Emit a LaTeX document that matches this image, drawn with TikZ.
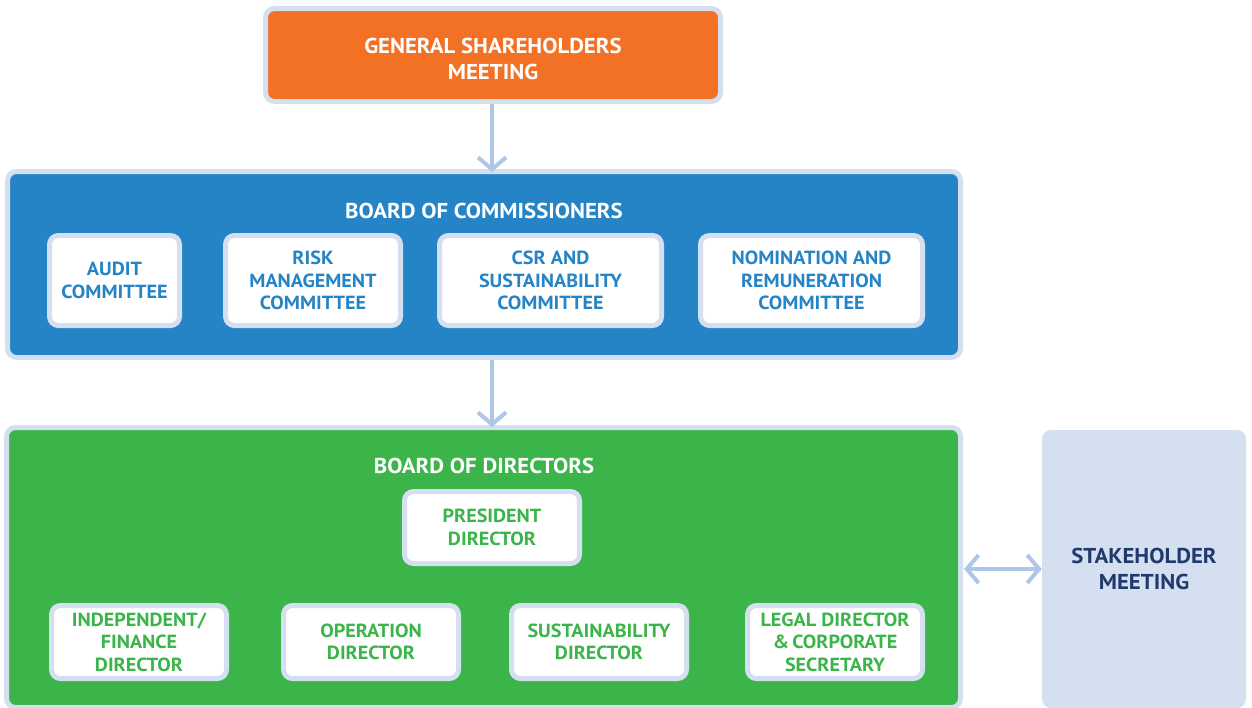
\documentclass[tikz,border=0pt]{standalone}
\usepackage{fontspec}
\setmainfont{PT Sans}[FakeStretch=1.06]
\usetikzlibrary{arrows.meta}
\definecolor{edge}{HTML}{D4DFF0}
\definecolor{arrowc}{HTML}{AFC6E9}
\definecolor{gsmorange}{HTML}{F37124}
\definecolor{bocblue}{HTML}{2584C6}
\definecolor{bodgreen}{HTML}{3BB54A}
\definecolor{navy}{HTML}{213A6E}
\tikzset{
  frame/.style={draw=edge, line width=5pt, rounded corners=9pt, inner sep=0pt, align=center},
  big/.style={font=\bfseries\fontsize{21.5}{26}\selectfont},
  small/.style={font=\bfseries\fontsize{19}{22.5}\selectfont},
  board/.style={frame, text=white, big},
  card/.style={frame, fill=white, small, minimum height=90pt},
  bluecard/.style={card, text=bocblue, minimum height=90pt},
  greencard/.style={card, text=bodgreen, minimum width=175pt, minimum height=73pt},
  flow/.style={arrowc, line width=4pt, -{Straight Barb[length=12pt,width=28pt,line width=4pt]}},
  flowboth/.style={arrowc, line width=4pt, {Straight Barb[length=12pt,width=28pt,line width=4pt]}-{Straight Barb[length=12pt,width=28pt,line width=4pt]}},
  heading/.style={text=white, big, inner sep=0pt, align=center}
}
\begin{document}
\begin{tikzpicture}[x=1pt,y=-1pt]
\useasboundingbox (0,0) rectangle (1252,707);

% top level
\node[board, fill=gsmorange, minimum width=455pt, minimum height=93pt] (gsm) at (493,55) {};
\node[heading] (gsmt) at (493,58.5) {GENERAL SHAREHOLDERS\\MEETING};

% board of commissioners with its committees
\node[board, fill=bocblue, minimum width=953pt, minimum height=186pt] (boc) at (484,264.5) {};
\node[heading] (boct) at (484,211) {BOARD OF COMMISSIONERS};
\node[bluecard, minimum width=130pt] (audit) at (114.5,280.5) {AUDIT\\COMMITTEE};
\node[bluecard, minimum width=175pt] (risk) at (313,280.5) {RISK\\MANAGEMENT\\COMMITTEE};
\node[bluecard, minimum width=222pt] (csr) at (550.5,280.5) {CSR AND\\SUSTAINABILITY\\COMMITTEE};
\node[bluecard, minimum width=222pt] (nom) at (811.5,280.5) {NOMINATION AND\\REMUNERATION\\COMMITTEE};

% board of directors
\node[board, fill=bodgreen, minimum width=954pt, minimum height=280pt] (bod) at (483.5,567.5) {};
\node[heading] (bodt) at (484,466) {BOARD OF DIRECTORS};
\node[greencard, minimum height=72pt] (pres) at (492,527.5) {PRESIDENT\\DIRECTOR};
\node[greencard] (fin) at (139,642) {INDEPENDENT/\\FINANCE\\DIRECTOR};
\node[greencard] (ops) at (371,642) {OPERATION\\DIRECTOR};
\node[greencard] (sus) at (599,642) {SUSTAINABILITY\\DIRECTOR};
\node[greencard] (legal) at (835,642) {LEGAL DIRECTOR\\\&\,CORPORATE\\SECRETARY};

% stakeholders
\node[fill=edge, rounded corners=9pt, minimum width=204pt, minimum height=278pt, inner sep=0pt,
      align=center, text=navy, big] (stake) at (1144,569) {STAKEHOLDER\\MEETING};

% connectors
\draw[flow] ([xshift=-1pt]gsm.south) -- ([xshift=-1pt,yshift=-3pt]gsm.south |- boc.north);
\draw[flow] ([xshift=-1pt]gsm.south |- boc.south) -- ([xshift=-1pt,yshift=-2pt]gsm.south |- bod.north);
\draw[flowboth] ([xshift=1pt]bod.east |- stake.west) -- (stake.west);
\end{tikzpicture}
\end{document}
